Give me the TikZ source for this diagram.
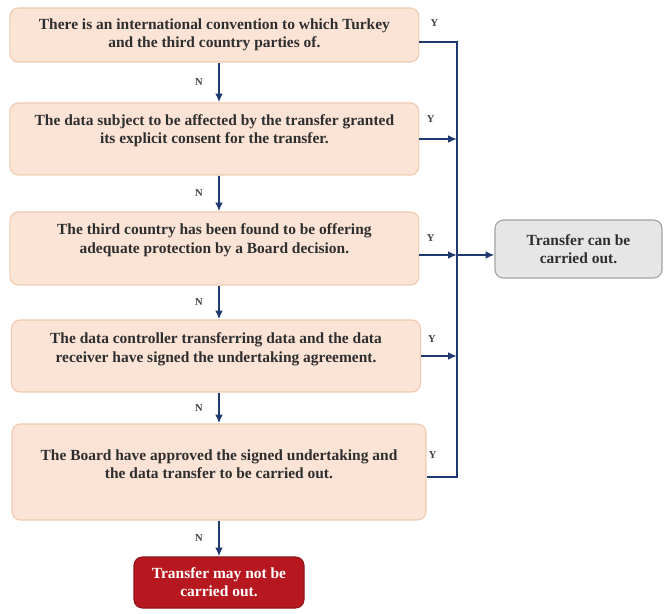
\documentclass[tikz,border=0pt]{standalone}
\usepackage{fontspec}
\setmainfont{Liberation Serif}
\usetikzlibrary{positioning, arrows.meta}

\definecolor{peach}{HTML}{FBE4D5}
\definecolor{peachline}{HTML}{F0CBB0}
\definecolor{navy}{HTML}{1F3A6E}
\definecolor{okgray}{HTML}{E7E6E6}
\definecolor{okline}{HTML}{A3A3A3}
\definecolor{stopred}{HTML}{B71820}

\begin{document}
\begin{tikzpicture}[
    box/.style={
        draw=peachline, fill=peach, rounded corners=6pt,
        line width=0.8pt,
        minimum width=10.225cm,
        align=center, text=black!82,
        font=\fontsize{11}{13}\selectfont\bfseries
    },
    lifted/.style={text depth=#1},
    okbox/.style={
        box, draw=okline, fill=okgray,
        minimum width=4.175cm, minimum height=1.45cm
    },
    stopbox/.style={
        box, draw=stopred!80!black, fill=stopred, text=white,
        minimum width=4.25cm, minimum height=1.275cm
    },
    flow/.style={draw=navy, line width=1.3pt},
    >={Latex[length=2.2mm,width=1.9mm]},
    answer/.style={
        font=\fontsize{7.5}{8}\selectfont\bfseries,
        text=black!75, inner sep=1pt
    }
]
\useasboundingbox (0,0) rectangle (16.6,15.325);

% questions
\node[box, minimum height=1.35cm] (conv) at (5.36,14.45)
    {There is an international convention to which Turkey\\and the third country parties of.};
\node[box, minimum height=1.8cm, lifted=14pt] (consent) at (5.36,11.85)
    {The data subject to be affected by the transfer granted\\its explicit consent for the transfer.};
\node[box, minimum height=1.825cm, lifted=14pt] (adequate) at (5.36,9.1125)
    {The third country has been found to be offering\\adequate protection by a Board decision.};
\node[box, minimum height=1.8cm, lifted=12pt] (signed) at (5.4,6.425)
    {The data controller transferring data and the data\\receiver have signed the undertaking agreement.};
\node[box, minimum width=10.35cm, minimum height=2.4cm, lifted=11pt] (approved) at (5.475,3.525)
    {The Board have approved the signed undertaking and\\the data transfer to be carried out.};

% outcomes
\node[okbox] (can) at (14.4625,9.1) {Transfer can be\\carried out.};
\node[stopbox] (cannot) at (5.475,0.7625) {Transfer may not be\\carried out.};

\coordinate (spine) at (5.475,0);
\coordinate (bustop) at (11.425,14.275);
\coordinate (busmid) at (11.425,8.95);
\coordinate (busbot) at (11.425,3.4);

% yes branches
\draw[flow] (conv.east |- bustop)
    -- node[answer, pos=0.4, above=0.33cm] (y1) {Y} (bustop)
    -- (busbot)
    -- node[answer, pos=0.8, above=0.41cm] (y5) {Y} (approved.east |- busbot);
\draw[flow, ->] (consent.east) -- node[answer, pos=0.3, above=0.36cm] (y2) {Y} (consent.east -| bustop);
\draw[flow, ->] (adequate.east |- busmid) -- node[answer, pos=0.3, above=0.28cm] (y3) {Y} (busmid);
\draw[flow, ->] (signed.east) -- node[answer, pos=0.3, above=0.28cm] (y4) {Y} (signed.east -| bustop);
\draw[flow, ->] (busmid) -- (can.west |- busmid);

% no branches
\draw[flow, ->] (conv.south -| spine) -- node[answer, left=0.35cm] (n1) {N} (consent.north -| spine);
\draw[flow, ->] (consent.south -| spine) -- node[answer, left=0.35cm] (n2) {N} (adequate.north -| spine);
\draw[flow, ->] (adequate.south -| spine) -- node[answer, left=0.35cm] (n3) {N} (signed.north -| spine);
\draw[flow, ->] (signed.south -| spine) -- node[answer, left=0.35cm] (n4) {N} (approved.north -| spine);
\draw[flow, ->] (approved.south -| spine) -- node[answer, left=0.35cm] (n5) {N} (cannot.north);
\end{tikzpicture}
\end{document}
